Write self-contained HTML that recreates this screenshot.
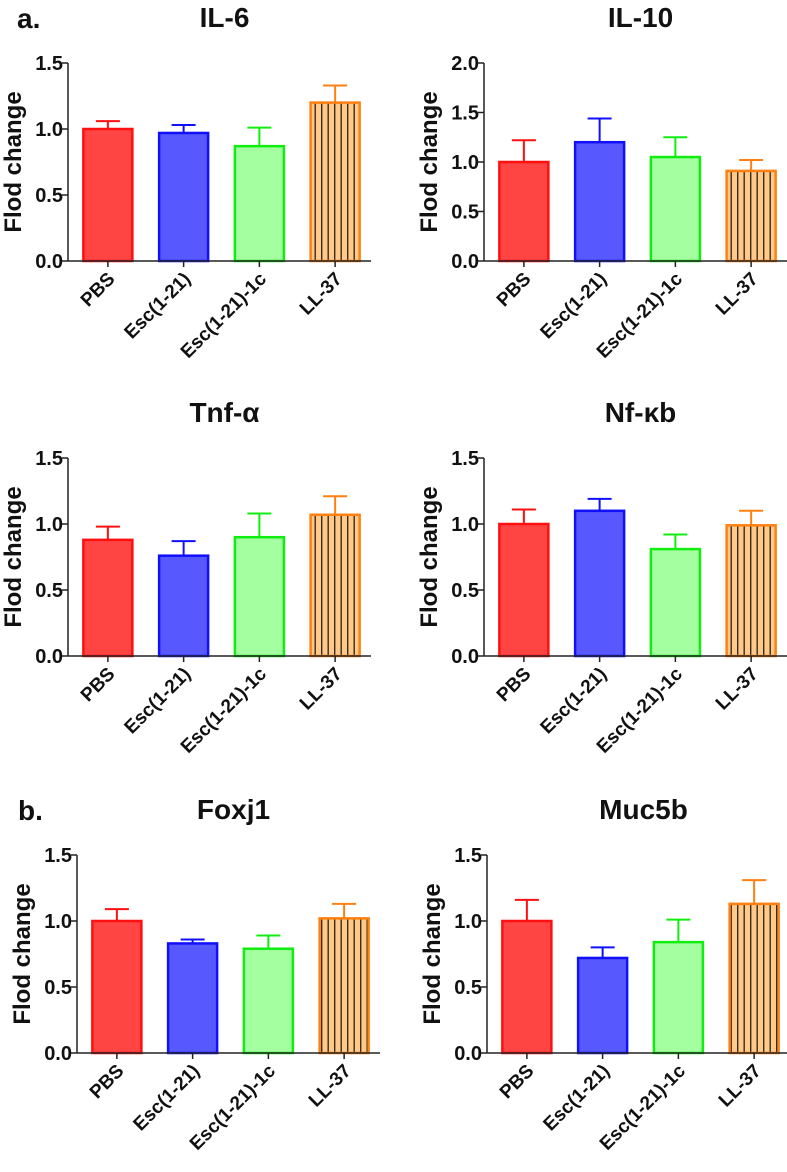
<!DOCTYPE html>
<html><head><meta charset="utf-8"><style>
html,body{margin:0;padding:0;background:#fff;}
svg text{font-family:"Liberation Sans",Arial,sans-serif;font-weight:bold;fill:#111;}
</style></head><body>
<svg id="fig" width="787" height="1167" viewBox="0 0 787 1167" xmlns="http://www.w3.org/2000/svg">
<defs>
<pattern id="vstripe" width="6.5" height="10" patternUnits="userSpaceOnUse">
<rect width="6.5" height="10" fill="#ffc98a"/>
<line x1="3.2" y1="0" x2="3.2" y2="10" stroke="#3a2a1a" stroke-width="1.4"/>
</pattern>
</defs>
<text x="17" y="28" font-size="28">a.</text>
<text x="18" y="820" font-size="28">b.</text>
</svg>
<script>
const categories = ["PBS","Esc(1-21)","Esc(1-21)-1c","LL-37"];
const titles = ["IL-6","IL-10","Tnf-α","Nf-κb","Foxj1","Muc5b"];
const maxY = [1.5,2.0,1.5,1.5,1.5,1.5];
const tickLabels15 = ["0.0","0.5","1.0","1.5"];
const tickLabels20 = ["0.0","0.5","1.0","1.5","2.0"];
const il6Mean = [1.0,0.97,0.87,1.2];
const il6Err = [0.06,0.06,0.14,0.13];
const il10Mean = [1.0,1.2,1.05,0.91];
const il10Err = [0.22,0.24,0.2,0.11];
const tnfMean = [0.88,0.76,0.9,1.07];
const tnfErr = [0.1,0.11,0.18,0.14];
const nfMean = [1.0,1.1,0.81,0.99];
const nfErr = [0.11,0.09,0.11,0.11];
const foxMean = [1.0,0.83,0.79,1.02];
const foxErr = [0.09,0.03,0.1,0.11];
const mucMean = [1.0,0.72,0.84,1.13];
const mucErr = [0.16,0.08,0.17,0.18];
const means = [il6Mean,il10Mean,tnfMean,nfMean,foxMean,mucMean];
const errs = [il6Err,il10Err,tnfErr,nfErr,foxErr,mucErr];

const NS="http://www.w3.org/2000/svg";
const svg=document.getElementById('fig');
function mk(tag,attrs,parent){const e=document.createElementNS(NS,tag);for(const k in attrs)e.setAttribute(k,attrs[k]);(parent||svg).appendChild(e);return e;}
const layout=[{ax:68,top:63},{ax:484,top:63},{ax:68,top:458},{ax:484,top:458},{ax:77,top:855},{ax:487,top:855}];
const fills=["#ff4444","#5858ff","#a4ffa0","url(#vstripe)"];
const strokes=["#ff1010","#1010ff","#10ee10","#ff8010"];
const H=198, W=303;
for(let p=0;p<6;p++){
  const L=layout[p];const bot=L.top+H;
  const g=mk('g',{});
  
  
  const y=v=>bot-v/maxY[p]*H;
  const band=W/4;
  const x=i=>L.ax+band*(i+0.5)+2;
  const t=mk('text',{x:L.ax+W/2+5,y:L.top-36,'font-size':28,'text-anchor':'middle'},g);t.textContent=titles[p];
  
  const yt=mk('text',{x:0,y:0,'font-size':24,'text-anchor':'middle',transform:`translate(${L.ax-47},${L.top+H/2}) rotate(-90)`},g);yt.textContent="Flod change";
  
  const ticks=maxY[p]===2?tickLabels20:tickLabels15;
  ticks.forEach((lab,k)=>{const v=parseFloat(lab);
    mk('line',{x1:L.ax-6,x2:L.ax,y1:y(v),y2:y(v),stroke:'#222','stroke-width':1.5},g);
    const tx=mk('text',{x:L.ax-5,y:y(v)+7,'font-size':20,'text-anchor':'end'},g);tx.textContent=lab;
    
  });
  categories.forEach((c,i)=>{
    const m=means[p][i],e=errs[p][i];const cx=x(i);const bw=49;
    mk('line',{x1:cx,x2:cx,y1:y(m),y2:y(m+e),stroke:strokes[i],'stroke-width':2},g);
    mk('line',{x1:cx-12,x2:cx+12,y1:y(m+e),y2:y(m+e),stroke:strokes[i],'stroke-width':2},g);
    const r=mk('rect',{x:cx-bw/2,y:y(m),width:bw,height:bot-y(m),fill:fills[i],stroke:strokes[i],'stroke-width':2.5},g);
    
    
    mk('line',{x1:cx,x2:cx,y1:bot,y2:bot+6,stroke:'#222','stroke-width':1.5},g);
    const xl=mk('text',{x:0,y:0,'font-size':19,'text-anchor':'end',transform:`translate(${cx+8},${bot+19}) rotate(-45)`},g);xl.textContent=c;
    
  });
  mk('line',{x1:L.ax,x2:L.ax,y1:L.top,y2:bot,stroke:'#222','stroke-width':1.5},g);
  mk('line',{x1:L.ax,x2:L.ax+W,y1:bot,y2:bot,stroke:'#222','stroke-width':1.5},g);
}
</script>
</body></html>
